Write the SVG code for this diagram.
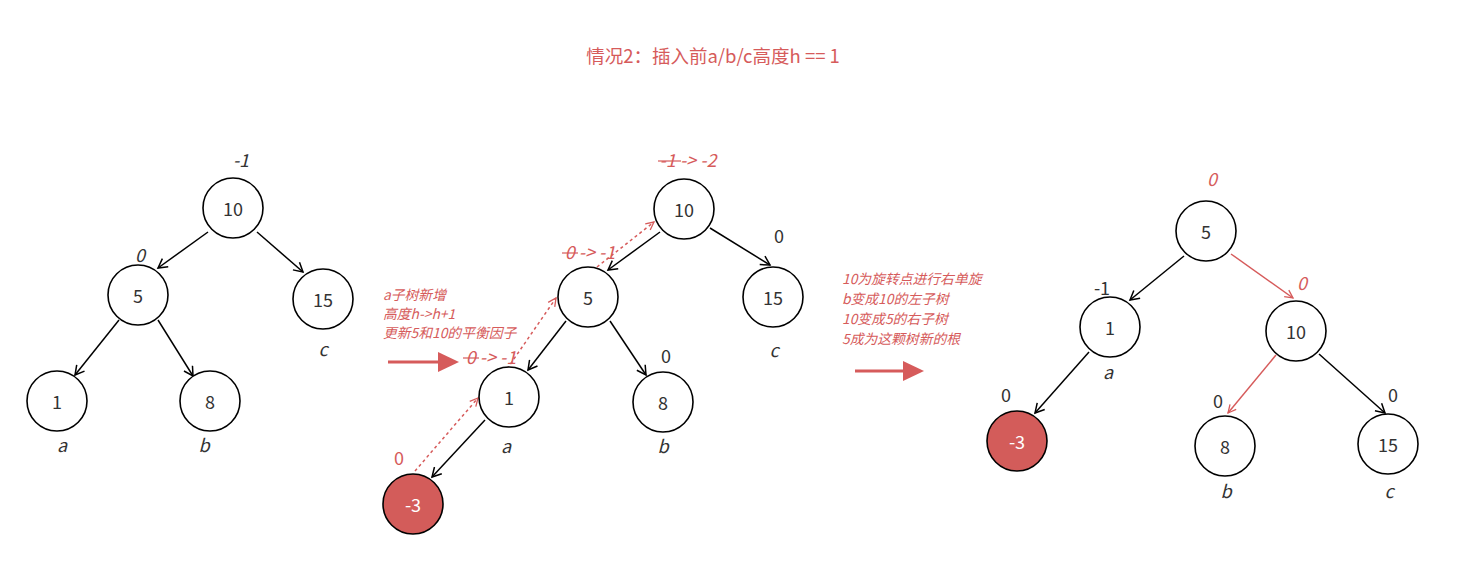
<svg xmlns="http://www.w3.org/2000/svg" width="1482" height="573" viewBox="0 0 1482 573">
<style>
text{font-family:"Noto Sans CJK SC","Noto Sans",sans-serif;}
.n{fill:#fff;stroke:#000;stroke-width:1.6;}
.nr{fill:#d35c5a;stroke:#000;stroke-width:1.6;}
.t{font-size:18px;fill:#333;text-anchor:middle;dominant-baseline:central;}
.tw{font-size:18px;fill:#fff;text-anchor:middle;dominant-baseline:central;}
.l{font-size:18px;fill:#333;text-anchor:middle;}
.li{font-size:18px;fill:#333;text-anchor:middle;font-style:italic;}
.r{font-size:18px;fill:#d65b5b;text-anchor:middle;}
.ri{font-size:18px;fill:#d65b5b;text-anchor:middle;font-style:italic;}
.note{font-size:13.8px;fill:#d65b5b;font-style:italic;}
.e{stroke:#000;stroke-width:1.5;fill:none;marker-end:url(#ab);}
.er{stroke:#d65b5b;stroke-width:1.5;fill:none;marker-end:url(#ar);}
.ed{stroke:#d65b5b;stroke-width:1.5;fill:none;stroke-dasharray:3 3;marker-end:url(#ar);}
.big{stroke:#d65b5b;stroke-width:3;fill:none;}
.strike{stroke:#d65b5b;stroke-width:1.2;}
</style>
<defs>
<marker id="ab" markerWidth="12" markerHeight="12" refX="10" refY="6" orient="auto" markerUnits="userSpaceOnUse"><path d="M1,1 L10,6 L1,11" fill="none" stroke="#000" stroke-width="1.5"/></marker>
<marker id="ar" markerWidth="12" markerHeight="12" refX="10" refY="6" orient="auto" markerUnits="userSpaceOnUse"><path d="M2,2 L10,6 L2,10" fill="none" stroke="#d65b5b" stroke-width="1.3"/></marker>
</defs>
<text x="713" y="63" style="font-size:18.5px;fill:#d65b5b;text-anchor:middle;">情况2：插入前a/b/c高度h == 1</text>

<g id="connectors">
<line class="e" x1="208" y1="232" x2="158" y2="268"/>
<line class="e" x1="257" y1="232" x2="303" y2="272"/>
<line class="e" x1="119" y1="320" x2="75" y2="375"/>
<line class="e" x1="158" y1="320" x2="193" y2="376"/>

<line class="e" x1="660" y1="232" x2="608" y2="270"/>
<line class="e" x1="710" y1="228" x2="770" y2="265"/>
<line class="e" x1="566" y1="321" x2="528" y2="370"/>
<line class="e" x1="610" y1="321" x2="646" y2="375"/>
<line class="e" x1="485" y1="420" x2="432" y2="477"/>
<line class="ed" x1="415" y1="471" x2="478" y2="398"/>
<line class="ed" x1="507" y1="369" x2="556" y2="298"/>
<line class="ed" x1="597" y1="267" x2="654" y2="222"/>

<line class="e" x1="1184" y1="256" x2="1130" y2="300"/>
<line class="er" x1="1231" y1="254" x2="1293" y2="298"/>
<line class="er" x1="1276" y1="355" x2="1228" y2="413"/>
<line class="e" x1="1319" y1="354" x2="1385" y2="413"/>
<line class="e" x1="1089" y1="352" x2="1035" y2="413"/>

<line class="big" x1="388" y1="362" x2="440" y2="362"/>
<path d="M438,352 L459,362 L438,372 Z" fill="#d65b5b"/>
<line class="big" x1="855" y1="371" x2="905" y2="371"/>
<path d="M903,361 L924,371 L903,381 Z" fill="#d65b5b"/>
</g>

<g id="t1-10"><circle class="n" cx="233" cy="208" r="30"/><text class="t" x="233" y="208">10</text></g>
<g id="t1-5"><circle class="n" cx="138" cy="295" r="30"/><text class="t" x="138" y="295">5</text></g>
<g id="t1-15"><circle class="n" cx="323" cy="299" r="30"/><text class="t" x="323" y="299">15</text></g>
<g id="t1-1"><circle class="n" cx="57" cy="401" r="30"/><text class="t" x="57" y="401">1</text></g>
<g id="t1-8"><circle class="n" cx="210" cy="401" r="30"/><text class="t" x="210" y="401">8</text></g>
<g id="t1-labels">
<text class="li" x="241" y="167">-1</text>
<text class="li" x="140" y="262">0</text>
<text class="li" x="323" y="356">c</text>
<text class="li" x="62" y="452">a</text>
<text class="li" x="204" y="452">b</text>
</g>

<g id="t2-10"><circle class="n" cx="684" cy="209" r="30"/><text class="t" x="684" y="209">10</text></g>
<g id="t2-5"><circle class="n" cx="588" cy="297" r="30"/><text class="t" x="588" y="297">5</text></g>
<g id="t2-15"><circle class="n" cx="773" cy="297" r="30"/><text class="t" x="773" y="297">15</text></g>
<g id="t2-1"><circle class="n" cx="509" cy="397" r="30"/><text class="t" x="509" y="397">1</text></g>
<g id="t2-8"><circle class="n" cx="663" cy="402" r="30"/><text class="t" x="663" y="402">8</text></g>
<g id="t2-m3"><circle class="nr" cx="413" cy="504" r="30"/><text class="tw" x="413" y="504">-3</text></g>
<g id="t2-labels">
<text class="ri" x="688" y="167">-1 -&gt; -2</text>
<line class="strike" x1="658" y1="161" x2="681" y2="161"/>
<text class="ri" x="590" y="259">0 -&gt; -1</text>
<line class="strike" x1="562" y1="253" x2="578" y2="253"/>
<text class="ri" x="491" y="364">0 -&gt; -1</text>
<line class="strike" x1="463" y1="358" x2="479" y2="358"/>
<text class="l" x="779" y="243">0</text>
<text class="l" x="666" y="363">0</text>
<text class="r" x="399" y="465">0</text>
<text class="li" x="506" y="453">a</text>
<text class="li" x="663" y="453">b</text>
<text class="li" x="774" y="357">c</text>
</g>

<g id="note1">
<text class="note" x="383" y="300">a子树新增</text>
<text class="note" x="383" y="319">高度h-&gt;h+1</text>
<text class="note" x="383" y="338">更新5和10的平衡因子</text>
</g>
<g id="note2">
<text class="note" x="842" y="284">10为旋转点进行右单旋</text>
<text class="note" x="842" y="304">b变成10的左子树</text>
<text class="note" x="842" y="324">10变成5的右子树</text>
<text class="note" x="842" y="344">5成为这颗树新的根</text>
</g>

<g id="t3-5"><circle class="n" cx="1206" cy="231" r="30"/><text class="t" x="1206" y="231">5</text></g>
<g id="t3-1"><circle class="n" cx="1110" cy="327" r="30"/><text class="t" x="1110" y="327">1</text></g>
<g id="t3-10"><circle class="n" cx="1296" cy="331" r="30"/><text class="t" x="1296" y="331">10</text></g>
<g id="t3-m3"><circle class="nr" cx="1017" cy="441" r="30"/><text class="tw" x="1017" y="441">-3</text></g>
<g id="t3-8"><circle class="n" cx="1225" cy="446" r="30"/><text class="t" x="1225" y="446">8</text></g>
<g id="t3-15"><circle class="n" cx="1388" cy="444" r="30"/><text class="t" x="1388" y="444">15</text></g>
<g id="t3-labels">
<text class="ri" x="1212" y="186">0</text>
<text class="l" x="1102" y="295">-1</text>
<text class="ri" x="1302" y="290">0</text>
<text class="li" x="1108" y="379">a</text>
<text class="l" x="1006" y="402">0</text>
<text class="l" x="1218" y="408">0</text>
<text class="l" x="1393" y="402">0</text>
<text class="li" x="1226" y="498">b</text>
<text class="li" x="1389" y="498">c</text>
</g>
</svg>
